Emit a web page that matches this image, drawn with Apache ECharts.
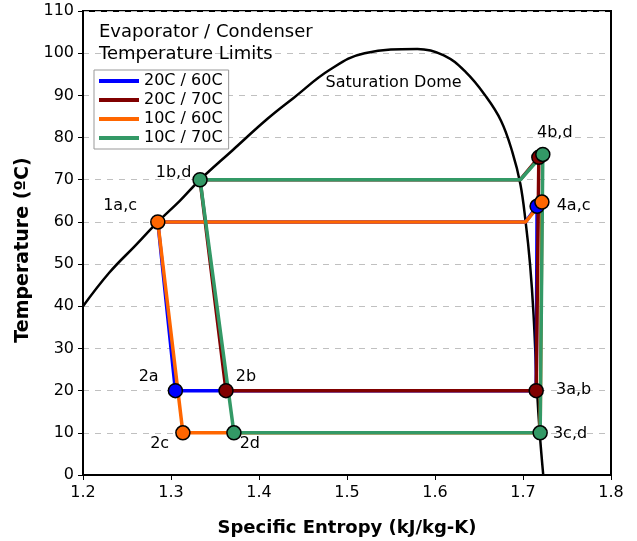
<!DOCTYPE html>
<html><head><meta charset="utf-8">
<script src="https://cdn.jsdelivr.net/npm/echarts@6/dist/echarts.min.js"></script>
<style>html,body{margin:0;padding:0;background:#fff}#c{width:637px;height:541px}</style>
</head><body><div id="c"></div>
<script>
// Saturation dome
const domeS = [1.2, 1.23, 1.26, 1.285, 1.31, 1.333, 1.37, 1.41, 1.44, 1.48, 1.52, 1.58, 1.61, 1.635, 1.657, 1.675, 1.688, 1.697, 1.703, 1.708, 1.712, 1.716, 1.719, 1.723];
const domeT = [40, 48, 54.5, 60, 65, 70, 77, 84.5, 89.5, 96, 100, 101, 99.5, 95.5, 90, 84, 76.5, 69, 60, 50, 38, 20, 10, 0];
// Cycles
const cycleNames = ['20C / 60C', '20C / 70C', '10C / 60C', '10C / 70C'];
const cycA_S = [1.305, 1.715, 1.716, 1.703, 1.285, 1.305];
const cycA_T = [20, 20, 63.7, 60, 60, 20];
const cycB_S = [1.3625, 1.715, 1.718, 1.697, 1.333, 1.3625];
const cycB_T = [20, 20, 75.3, 70, 70, 20];
const cycC_S = [1.3135, 1.7195, 1.7215, 1.703, 1.285, 1.3135];
const cycC_T = [10, 10, 64.7, 60, 60, 10];
const cycD_S = [1.3715, 1.7195, 1.7225, 1.697, 1.333, 1.3715];
const cycD_T = [10, 10, 76, 70, 70, 10];
// State points
const ptLabels = ['2a', '4a', '2b', '3a,b', '4b', '2c', '1a,c', '4a,c', '2d', '3c,d', '4b,d', '1b,d'];
const ptS = [1.305, 1.716, 1.3625, 1.715, 1.718, 1.3135, 1.285, 1.7215, 1.3715, 1.7195, 1.7225, 1.333];
const ptT = [20, 63.7, 20, 20, 75.3, 10, 60, 64.7, 10, 10, 76, 70];
const ptCycle = [0, 0, 1, 1, 1, 2, 2, 2, 3, 3, 3, 3];
const ptShowLabel = [true, false, true, true, false, true, true, true, true, true, true, true];

const colors = ['#0000ff', '#800000', '#ff6600', '#339966'];
const labelPos = {
  '2a': {position: 'left', offset: [-4, -14]},
  '2b': {position: 'right', offset: [-3, -14]},
  '2c': {position: 'left', offset: [-1, 11]},
  '2d': {position: 'right', offset: [-7, 11]},
  '1a,c': {position: 'left', offset: [-8, -16]},
  '1b,d': {position: 'left', offset: [4, -7]},
  '3a,b': {position: 'right', offset: [7, -1]},
  '3c,d': {position: 'right', offset: [0, 1]},
  '4a,c': {position: 'right', offset: [2, 4]},
  '4b,d': {position: 'top', offset: [12, -1]}
};
const font = 'DejaVu Sans';
const zip = (a, b) => a.map((v, i) => [v, b[i]]);
const cycles = [[cycA_S, cycA_T], [cycB_S, cycB_T], [cycC_S, cycC_T], [cycD_S, cycD_T]];

const series = [{
  type: 'line', data: zip(domeS, domeT), smooth: 0.4, showSymbol: false, silent: true,
  lineStyle: {color: '#000', width: 2.5}, z: 3
}];
cycles.forEach((c, i) => series.push({
  name: cycleNames[i], type: 'line', data: zip(c[0], c[1]), showSymbol: false,
  lineStyle: {color: colors[i], width: 3.5}, itemStyle: {color: colors[i]}, z: 4 + i
}));
const ptData = ptS.map((s, i) => {
  const lp = labelPos[ptLabels[i]] || {position: 'right', offset: [0, 0]};
  return {
    value: [s, ptT[i]],
    itemStyle: {color: colors[ptCycle[i]], borderColor: '#000', borderWidth: 1.5, opacity: 1},
    label: {show: ptShowLabel[i], formatter: ptLabels[i], position: lp.position, offset: lp.offset,
      fontFamily: font, fontSize: 16, color: '#000'}
  };
});
series.push({type: 'scatter', data: ptData, symbolSize: 14, z: 10, silent: true});
series.push({type: 'scatter', data: [[1.553, 93]], symbolSize: 0, z: 10, silent: true,
  itemStyle: {opacity: 1},
  label: {show: true, formatter: 'Saturation Dome', position: 'inside', fontFamily: font, fontSize: 16, color: '#000'}});

const chart = echarts.init(document.getElementById('c'));
chart.setOption({
  animation: false,
  title: {text: 'Evaporator / Condenser\nTemperature Limits', left: 94, top: 16,
    textStyle: {fontFamily: font, fontSize: 18, fontWeight: 'normal', color: '#000', lineHeight: 22}},
  legend: {data: cycleNames, orient: 'vertical', left: 94, top: 70, backgroundColor: '#fff',
    borderColor: '#999', borderWidth: 1, padding: [3, 6, 3, 5], itemGap: 3,
    itemWidth: 40, itemHeight: 4, icon: 'rect',
    textStyle: {fontFamily: font, fontSize: 16, color: '#000'}},
  grid: {left: 83, right: 26, top: 11, bottom: 66, show: true, borderColor: '#000', borderWidth: 2,
    containLabel: false, outerBoundsMode: 'none'},
  xAxis: {type: 'value', min: 1.2, max: 1.8, interval: 0.1,
    name: 'Specific Entropy (kJ/kg-K)', nameLocation: 'middle', nameGap: 44,
    nameTextStyle: {fontFamily: font, fontSize: 18, fontWeight: 'bold', color: '#000'},
    axisLine: {lineStyle: {color: '#000', width: 2}},
    axisTick: {show: true, length: 5, lineStyle: {color: '#000'}},
    axisLabel: {fontFamily: font, fontSize: 16, color: '#000', margin: 10, formatter: v => v.toFixed(1)},
    splitLine: {show: false}},
  yAxis: {type: 'value', min: 0, max: 110, interval: 10,
    name: 'Temperature (ºC)', nameLocation: 'middle', nameGap: 50, nameRotate: 90,
    nameTextStyle: {fontFamily: font, fontSize: 19, fontWeight: 'bold', color: '#000', padding: [0, 14, 0, 0]},
    axisLine: {show: true, lineStyle: {color: '#000', width: 2}},
    axisTick: {show: true, length: 5, lineStyle: {color: '#000'}},
    axisLabel: {fontFamily: font, fontSize: 16, color: '#000', margin: 9},
    splitLine: {show: true, lineStyle: {color: '#c0c0c0', type: [6, 6], width: 1}}},
  series: series
});
</script></body></html>
